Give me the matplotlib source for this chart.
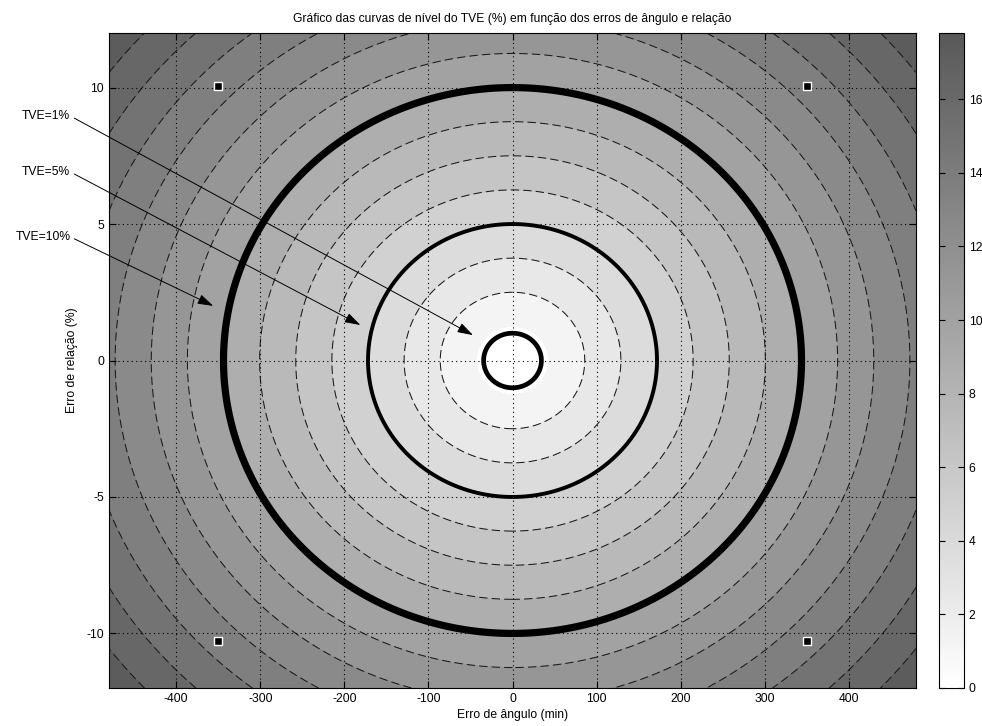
import numpy as np
import matplotlib
matplotlib.use("Agg")
import matplotlib.pyplot as plt
from matplotlib.colors import LinearSegmentedColormap, Normalize
from matplotlib.cm import ScalarMappable

plt.rcParams['font.family'] = ['Liberation Sans', 'DejaVu Sans']
plt.rcParams['font.size'] = 8.7
plt.rcParams['axes.unicode_minus'] = False

# ranges of the error grid
angle_lim = 480      # min
ratio_lim = 12       # %
MIN_TO_PCT = np.pi / 180 / 60 * 100   # 1 min of arc expressed in % of the unit phasor

# filled contour levels (TVE %), dashed lines, highlighted TVE limits
fill_levels = [0, 1.25, 2.5, 3.75, 5, 6.25, 7.5, 8.75, 10, 11.25, 12.5, 13.75, 15, 16.25, 17.5]
dash_levels = [2.5, 3.75, 6.25, 7.5, 8.75, 11.25, 12.5, 13.75, 15, 16.25, 17.5]
ring_levels = [1, 5, 10]
ring_widths = [3.4, 2.8, 5.2]
cbar_max = 17.8
cbar_ticks = [0, 2, 4, 6, 8, 10, 12, 14, 16]

# corner points
pts_angle = [-350, 350, -350, 350]
pts_ratio = [10.06, 10.06, -10.28, -10.28]

# arrow labels
tve_labels = ["TVE=1%", "TVE=5%", "TVE=10%"]
label_y = [8.96, 6.91, 4.53]
label_x = -526
tip_angle = [-47, -181, -356]
tip_ratio = [0.93, 1.30, 2.0]

x = np.linspace(-angle_lim, angle_lim, 961)
y = np.linspace(-ratio_lim, ratio_lim, 481)
X, Y = np.meshgrid(x, y)
tve = np.sqrt(Y ** 2 + (X * MIN_TO_PCT) ** 2)

cmap = LinearSegmentedColormap.from_list("grays", ["#ffffff", "#595959"])
norm = Normalize(vmin=0, vmax=cbar_max)

fig = plt.figure(figsize=(9.82, 7.26), dpi=100)
ax = fig.add_axes([109 / 982, 38 / 726, 807 / 982, 655 / 726])
cax = fig.add_axes([939 / 982, 38 / 726, 25 / 982, 655 / 726])

# each band takes the colour of its lower level
bands = fill_levels + [max(tve.max(), fill_levels[-1] + 0.01)]
band_colors = [cmap(norm(v)) for v in fill_levels]
ax.contourf(X, Y, tve, levels=bands, colors=band_colors, zorder=1)
ax.contour(X, Y, tve, levels=dash_levels, colors='#1a1a1a', linewidths=0.75,
           linestyles=[(0, (8, 4))], zorder=2)
for lev, lw in zip(ring_levels, ring_widths):
    ax.contour(X, Y, tve, levels=[lev], colors='k', linewidths=lw, zorder=4)

ax.plot(pts_angle, pts_ratio, 's', ms=5.5, mfc='k', mec='white', mew=1.0,
        ls='none', zorder=5)

ax.set_xlim(-angle_lim, angle_lim)
ax.set_ylim(-ratio_lim, ratio_lim)
ax.set_xticks(np.arange(-400, 401, 100))
ax.set_yticks([-10, -5, 0, 5, 10])
ax.set_axisbelow(False)
ax.grid(True, color='k', linestyle=(0, (1, 3)), linewidth=0.8)
ax.tick_params(direction='in', top=True, right=True, length=5, width=0.8)
for s in ax.spines.values():
    s.set_linewidth(0.8)
    s.set_zorder(6)

ax.set_title("Gráfico das curvas de nível do TVE (%) em função dos erros de ângulo e relação",
             fontsize=8.7, pad=8)
ax.set_xlabel("Erro de ângulo (min)", labelpad=3)
ax.set_ylabel("Erro de relação (%)", labelpad=6)

for txt, ty, tx, tr in zip(tve_labels, label_y, tip_angle, tip_ratio):
    ax.annotate(txt, xy=(tx, tr), xytext=(label_x, ty), ha='right', va='center',
                annotation_clip=False, zorder=7,
                arrowprops=dict(arrowstyle='-|>,head_length=1.1,head_width=0.35',
                                color='k', lw=0.7, shrinkA=1, shrinkB=0,
                                relpos=(1, 0.5)))

cb = fig.colorbar(ScalarMappable(norm=norm, cmap=cmap), cax=cax)
cb.set_ticks(cbar_ticks)
cb.outline.set_linewidth(0.8)
cax.tick_params(direction='in', left=True, right=True, length=4, width=0.8)

fig.savefig("out.png", dpi=100)
